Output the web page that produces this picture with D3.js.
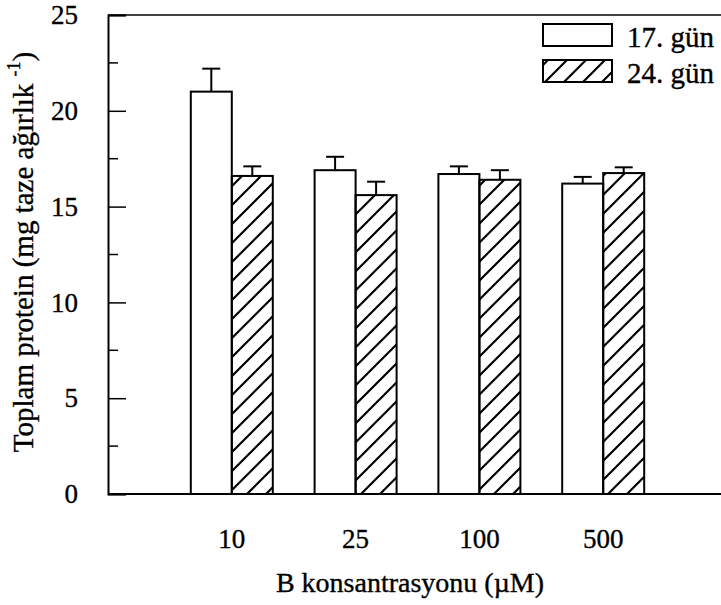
<!DOCTYPE html>
<html>
<head>
<meta charset="utf-8">
<script src="https://cdn.jsdelivr.net/npm/d3@7"></script>
<style>
  body { margin: 0; background: #fff; }
  text { font-family: "Liberation Serif", "Times New Roman", serif; fill: #000; stroke: #000; stroke-width: 0.35; }
</style>
</head>
<body>
<div class="chart"></div>
<script>
// data
const concentrations = ["10", "25", "100", "500"];
const seriesNames = ["17. gün", "24. gün"];
const day17 = [21.0, 16.9, 16.7, 16.2];
const day17Err = [1.2, 0.7, 0.4, 0.35];
const day24 = [16.6, 15.6, 16.4, 16.75];
const day24Err = [0.5, 0.7, 0.5, 0.3];
const yTicks = [0, 5, 10, 15, 20, 25];
const yMinorTicks = [2.5, 7.5, 12.5, 17.5, 22.5];

const W = 721, H = 605;
const margin = { top: 15, right: 0, bottom: 111, left: 108 };

let svg = d3.select(".chart").append("svg")
    .attr("width", W)
    .attr("height", H);

// hatch pattern for 24. gün
let defs = svg.append("defs");
defs.append("pattern")
    .attr("id", "hatch")
    .attr("patternUnits", "userSpaceOnUse")
    .attr("width", 19)
    .attr("height", 19)
    .append("path")
    .attr("d", "M-2,21 L21,-2 M-2,2 L2,-2 M17,21 L21,17")
    .attr("stroke", "#000")
    .attr("stroke-width", 2.2);

// x: category positions 1..4 on a 0..5 linear scale
const x = d3.scaleLinear()
    .domain([0, 5])
    .range([margin.left, margin.left + 5 * 123.8]);
const barW = 41;

const y = d3.scaleLinear()
    .domain([0, 25])
    .range([H - margin.bottom, margin.top]);

// frame: top line
svg.append("line")
    .attr("x1", margin.left).attr("x2", W)
    .attr("y1", y(25)).attr("y2", y(25))
    .attr("stroke", "#000").attr("stroke-width", 1.5);

// bars
let rows = concentrations.map((c, i) => ({ i: i, c: c }));

let g = svg.append("g");
g.selectAll(".b17")
    .data(rows)
    .join("rect")
    .attr("x", d => x(d.i + 1) - barW)
    .attr("y", d => y(day17[d.i]))
    .attr("width", barW)
    .attr("height", d => y(0) - y(day17[d.i]))
    .attr("fill", "#fff")
    .attr("stroke", "#000")
    .attr("stroke-width", 2);

g.selectAll(".b24")
    .data(rows)
    .join("rect")
    .attr("x", d => x(d.i + 1))
    .attr("y", d => y(day24[d.i]))
    .attr("width", barW)
    .attr("height", d => y(0) - y(day24[d.i]))
    .attr("fill", "url(#hatch)")
    .attr("stroke", "#000")
    .attr("stroke-width", 2);

// error bars (upper only)
const errs = [
    { vals: day17, err: day17Err, off: -barW / 2 },
    { vals: day24, err: day24Err, off: barW / 2 }
];
errs.forEach(s => {
    rows.forEach(d => {
        let cx = x(d.i + 1) + s.off;
        let top = y(s.vals[d.i] + s.err[d.i]);
        g.append("line")
            .attr("x1", cx).attr("x2", cx)
            .attr("y1", y(s.vals[d.i])).attr("y2", top)
            .attr("stroke", "#000").attr("stroke-width", 2);
        g.append("line")
            .attr("x1", cx - 9).attr("x2", cx + 9)
            .attr("y1", top).attr("y2", top)
            .attr("stroke", "#000").attr("stroke-width", 2);
    });
});

// bottom line
svg.append("line")
    .attr("x1", margin.left).attr("x2", W)
    .attr("y1", y(0)).attr("y2", y(0))
    .attr("stroke", "#000").attr("stroke-width", 2);

// y axis, ticks inward
let yAxis = svg.append("g")
    .attr("transform", `translate(${margin.left},0)`)
    .call(d3.axisLeft(y).tickValues(yTicks).tickSize(-18).tickPadding(30));
yAxis.select(".domain").attr("stroke-width", 2);
yAxis.selectAll(".tick line").attr("stroke-width", 1.5);
yAxis.selectAll(".tick text")
    .attr("font-size", 27)
    .style("font-family", "Liberation Serif");
yAxis.selectAll(".minor")
    .data(yMinorTicks)
    .join("line")
    .attr("x1", 0).attr("x2", 10)
    .attr("y1", d => y(d)).attr("y2", d => y(d))
    .attr("stroke", "#000").attr("stroke-width", 1.5);

// x tick labels
svg.append("g")
    .selectAll("text")
    .data(rows)
    .join("text")
    .attr("x", d => x(d.i + 1))
    .attr("y", 548)
    .attr("text-anchor", "middle")
    .attr("font-size", 27)
    .text(d => d.c);

// axis titles
svg.append("text")
    .attr("x", 410)
    .attr("y", 592)
    .attr("text-anchor", "middle")
    .attr("font-size", 28)
    .text("B konsantrasyonu (µM)");

let yl = svg.append("text")
    .attr("transform", "translate(33,252) rotate(-90)")
    .attr("text-anchor", "middle")
    .attr("font-size", 29);
yl.append("tspan").text("Toplam protein (mg taze ağırlık ");
yl.append("tspan").attr("font-size", 18).attr("dy", -13).text("-1");
yl.append("tspan").attr("dy", 13).text(")");

// legend
let legend = svg.append("g");
const legY = [24, 60];
legend.selectAll("rect")
    .data(seriesNames)
    .join("rect")
    .attr("x", 543)
    .attr("y", (d, i) => legY[i])
    .attr("width", 69)
    .attr("height", 22)
    .attr("fill", (d, i) => i === 0 ? "#fff" : "url(#hatch)")
    .attr("stroke", "#000")
    .attr("stroke-width", 2);
legend.selectAll("text")
    .data(seriesNames)
    .join("text")
    .attr("x", 627)
    .attr("y", (d, i) => legY[i] + 23)
    .attr("font-size", 29)
    .text(d => d);
</script>
</body>
</html>
